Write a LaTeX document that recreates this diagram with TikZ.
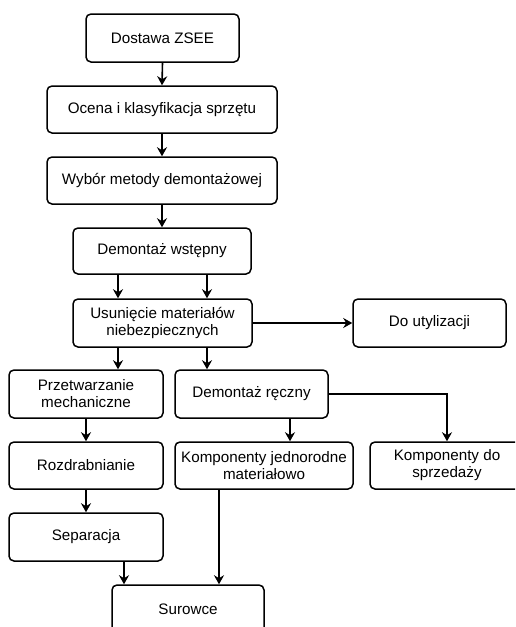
\documentclass[tikz,border=0pt]{standalone}
\usepackage{fontspec}
\setmainfont{Liberation Sans}
\usetikzlibrary{arrows.meta}
\begin{document}
\begin{tikzpicture}[x=1pt,y=-1pt,
  box/.style={draw, line width=1.5pt, rounded corners=5pt, align=center, inner sep=0pt,
    font=\fontsize{15.2}{17}\selectfont},
  arr/.style={line width=1.6pt, -{Stealth[length=9pt,width=10pt]}}]
\useasboundingbox (0,0) rectangle (515,627);
\clip (0,0) rectangle (515,627);
% boxes: center, width, height
\node[box, minimum width=153pt, minimum height=48pt] (dz) at (162.5,38) {Dostawa ZSEE};
\node[box, minimum width=230pt, minimum height=47pt] (oc) at (162,109.5) {Ocena i klasyfikacja sprzętu};
\node[box, minimum width=230pt, minimum height=47pt] (wy) at (162,180.5) {Wybór metody demontażowej};
\node[box, minimum width=178pt, minimum height=46pt] (dw) at (162,251) {Demontaż wstępny};
\node[box, minimum width=179pt, minimum height=48pt] (us) at (162.5,323) {Usunięcie materiałów\\niebezpiecznych};
\node[box, minimum width=153pt, minimum height=48pt] (ut) at (429.5,323) {Do utylizacji};
\node[box, minimum width=154pt, minimum height=48pt] (pm) at (86,394) {Przetwarzanie\\mechaniczne};
\node[box, minimum width=153pt, minimum height=48pt] (dr) at (251.5,394) {Demontaż ręczny};
\node[box, minimum width=154pt, minimum height=47pt] (ro) at (86,465.5) {Rozdrabnianie};
\node[box, minimum width=178pt, minimum height=47pt] (kj) at (264,465.5) {Komponenty jednorodne\\materiałowo};
\node[box, minimum width=154pt, minimum height=47pt] (ks) at (447,465.5) {Komponenty do\\sprzedaży};
\node[box, minimum width=154pt, minimum height=48pt] (se) at (86,537) {Separacja};
\node[box, minimum width=152pt, minimum height=48pt] (su) at (188,609) {Surowce};
% x positions of connectors
\coordinate (xa) at (118,0);
\coordinate (xb) at (207,0);
\coordinate (xc) at (290,0);
\coordinate (xd) at (447,0);
\coordinate (xe) at (124,0);
\coordinate (xf) at (219,0);
% connectors
\draw[arr] (dz.south) -- (oc.north);
\draw[arr] (oc.south) -- (wy.north);
\draw[arr] (wy.south) -- (dw.north);
\draw[arr] (dw.south -| xa) -- (us.north -| xa);
\draw[arr] (dw.south -| xb) -- (us.north -| xb);
\draw[arr] (us.east) -- (ut.west);
\draw[arr] (us.south -| xa) -- (pm.north -| xa);
\draw[arr] (us.south -| xb) -- (dr.north -| xb);
\draw[arr] (dr.south -| xc) -- (kj.north -| xc);
\draw[arr] (dr.east) -| (ks.north);
\draw[arr] (pm.south) -- (ro.north);
\draw[arr] (ro.south) -- (se.north);
\draw[arr] (se.south -| xe) -- (su.north -| xe);
\draw[arr] (kj.south -| xf) -- (su.north -| xf);
\end{tikzpicture}
\end{document}
